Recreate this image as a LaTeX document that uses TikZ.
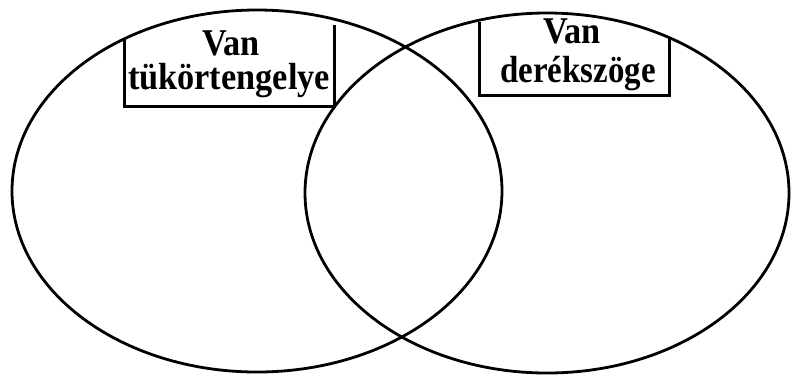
\documentclass[tikz,border=0pt]{standalone}
\usepackage{fontspec}
\setmainfont{Liberation Serif}
\newcommand{\tallbf}[1]{\scalebox{0.98}[1.08]{#1}}
\begin{document}
\begin{tikzpicture}[x=1pt,y=-1pt,
  ring/.style={line width=2.8pt},
  frame/.style={line width=3pt},
  lbl/.style={font=\bfseries\fontsize{35}{35}\selectfont, inner sep=0pt, anchor=base}]
\useasboundingbox (0,0) rectangle (791,376);
\fill[white] (0,0) rectangle (791,376);
% ellipses
\draw[ring] (257,191) ellipse [x radius=245, y radius=181];
\draw[ring] (547,193) ellipse [x radius=242, y radius=180];
% left label box
\coordinate (a1) at (124,38);
\coordinate (a2) at (124,106);
\coordinate (a3) at (334,106);
\coordinate (a4) at (334,25);
\draw[frame] (a1) -- (a2) -- (a3) -- (a4);
\node[lbl] (l1) at (231,55) {\tallbf{Van}};
\node[lbl] (l2) at (229,89) {\tallbf{tükörtengelye}};
% right label box
\coordinate (b1) at (479,22);
\coordinate (b2) at (479,95);
\coordinate (b3) at (669,95);
\coordinate (b4) at (669,37);
\draw[frame] (b1) -- (b2) -- (b3) -- (b4);
\node[lbl] (r1) at (572,43) {\tallbf{Van}};
\node[lbl] (r2) at (578,82) {\scalebox{0.94}[1.08]{derékszöge}};
\end{tikzpicture}
\end{document}
